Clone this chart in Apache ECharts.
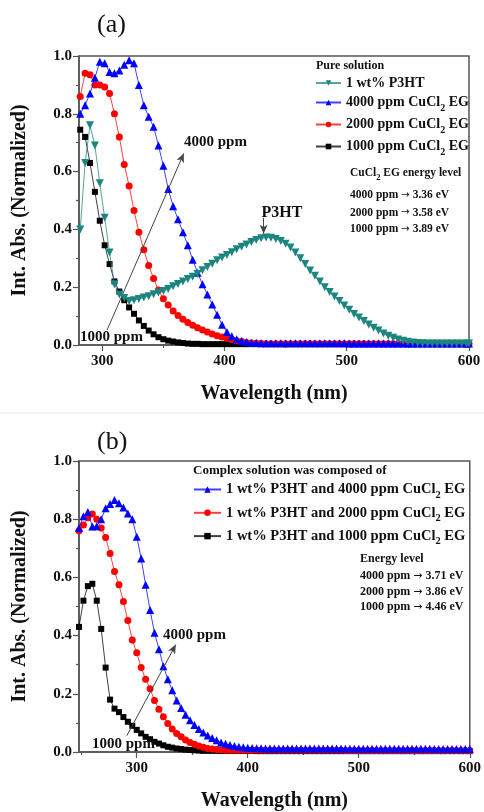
<!DOCTYPE html>
<html><head><meta charset="utf-8">
<script src="https://cdn.jsdelivr.net/npm/echarts@6/dist/echarts.min.js"></script>
<style>html,body{margin:0;padding:0;background:#fff}#c{width:484px;height:812px}</style>
</head><body><div id="c"></div><script>
// ---------- Panel (a): pure solutions ----------
const wlA = [282,286,290,294,298,302,306,310,314,318,
  322,326,330,334,338,342,346,350,354,358,
  362,366,370,374,378,382,386,390,394,398,
  402,406,410,414,418,422,426,430,434,438,
  442,446,450,454,458,462,466,470,474,478,
  482,486,490,494,498,502,506,510,514,518,
  522,526,530,534,538,542,546,550,554,558,
  562,566,570,574,578,582,586,590,594,598,600];
const p3htA = [0.40,0.63,0.76,0.69,0.56,0.44,0.32,0.21,0.175,0.163,
  0.152,0.155,0.159,0.164,0.169,0.176,0.182,0.187,0.194,0.203,
  0.211,0.22,0.228,0.236,0.246,0.259,0.27,0.281,0.293,0.303,
  0.311,0.321,0.331,0.34,0.348,0.356,0.363,0.369,0.372,0.371,
  0.367,0.36,0.35,0.337,0.32,0.30,0.28,0.258,0.24,0.22,
  0.20,0.183,0.168,0.152,0.137,0.122,0.107,0.095,0.083,0.071,
  0.06,0.05,0.04,0.032,0.025,0.019,0.015,0.011,0.009,0.007,
  0.006,0.005,0.005,0.005,0.005,0.005,0.005,0.005,0.005,0.005,0.005];
const cu4000A = [0.80,0.83,0.87,0.925,0.98,0.975,0.945,0.94,0.95,0.97,
  0.985,0.975,0.90,0.83,0.79,0.755,0.69,0.62,0.54,0.48,
  0.435,0.39,0.345,0.295,0.25,0.21,0.175,0.14,0.105,0.07,
  0.045,0.03,0.02,0.014,0.01,0.008,0.007,0.006,0.006,0.006,
  0.006,0.006,0.006,0.006,0.006,0.006,0.006,0.006,0.006,0.006,
  0.006,0.006,0.006,0.006,0.006,0.005,0.005,0.005,0.005,0.005,
  0.005,0.005,0.005,0.005,0.005,0.005,0.005,0.005,0.005,0.005,
  0.005,0.005,0.005,0.005,0.005,0.005,0.005,0.005,0.005,0.005,0.005];
const cu2000A = [0.86,0.94,0.935,0.90,0.90,0.893,0.87,0.80,0.72,0.625,
  0.55,0.465,0.39,0.33,0.275,0.23,0.19,0.16,0.138,0.118,
  0.102,0.089,0.078,0.068,0.06,0.052,0.045,0.038,0.032,0.028,
  0.023,0.019,0.015,0.012,0.009,0.007,0.006,0.005,0.004,0.004,
  0.004,0.004,0.004,0.004,0.004,0.004,0.004,0.004,0.004,0.004,
  0.004,0.004,0.004,0.004,0.004,0.004,0.004,0.004,0.004,0.004,
  0.004,0.004,0.004,0.004,0.004,0.004,0.004,0.004,0.004,0.004,
  0.004,0.004,0.004,0.004,0.004,0.004,0.004,0.004,0.004,0.004,0.004];
const cu1000A = [0.745,0.72,0.63,0.53,0.43,0.345,0.28,0.22,0.185,0.155,
  0.13,0.108,0.085,0.066,0.05,0.037,0.027,0.02,0.015,0.012,
  0.009,0.007,0.005,0.004,0.004,0.003,0.003,0.003,0.003,0.003,
  0.003,0.003,0.003,0.003,0.003,0.003,0.003,0.003,0.003,0.003,
  0.003,0.003,0.003,0.003,0.003,0.003,0.003,0.003,0.003,0.003,
  0.003,0.003,0.003,0.003,0.003,0.003,0.003,0.003,0.003,0.003,
  0.003,0.003,0.003,0.003,0.003,0.003,0.003,0.003,0.003,0.003,
  0.003,0.003,0.003,0.003,0.003,0.003,0.003,0.003,0.003,0.003,0.003];

// ---------- Panel (b): complex solutions ----------
const wlB = [248,252,256,260,264,268,272,276,280,284,
  288,292,296,300,304,308,312,316,320,324,
  328,332,336,340,344,348,352,356,360,364,
  368,372,376,380,384,388,392,396,400,404,
  408,412,416,420,424,428,432,436,440,444,
  448,452,456,460,464,468,472,476,480,484,
  488,492,496,500,504,508,512,516,520,524,
  528,532,536,540,544,548,552,556,560,564,
  568,572,576,580,584,588,592,596,600];
const mix4000B = [0.77,0.81,0.825,0.775,0.776,0.80,0.838,0.852,0.866,0.855,
  0.84,0.82,0.80,0.74,0.665,0.575,0.488,0.41,0.353,0.295,
  0.25,0.212,0.177,0.151,0.128,0.109,0.093,0.079,0.067,0.057,
  0.048,0.04,0.033,0.028,0.024,0.021,0.018,0.016,0.015,0.014,
  0.013,0.013,0.012,0.012,0.012,0.012,0.012,0.012,0.012,0.012,
  0.012,0.012,0.012,0.012,0.012,0.012,0.012,0.012,0.012,0.012,
  0.011,0.011,0.011,0.011,0.011,0.011,0.011,0.011,0.011,0.011,
  0.011,0.011,0.011,0.011,0.011,0.011,0.011,0.011,0.011,0.011,
  0.01,0.01,0.01,0.01,0.01,0.01,0.01,0.01,0.01];
const mix2000B = [0.76,0.78,0.805,0.818,0.80,0.77,0.737,0.682,0.62,0.575,
  0.517,0.452,0.385,0.341,0.29,0.25,0.217,0.177,0.147,0.121,
  0.098,0.079,0.064,0.052,0.041,0.033,0.027,0.021,0.016,0.012,
  0.01,0.009,0.008,0.007,0.006,0.006,0.006,0.006,0.006,0.006,
  0.006,0.006,0.006,0.006,0.006,0.006,0.006,0.006,0.006,0.006,
  0.006,0.006,0.006,0.006,0.006,0.006,0.006,0.006,0.006,0.006,
  0.005,0.005,0.005,0.005,0.005,0.005,0.005,0.005,0.005,0.005,
  0.005,0.005,0.005,0.005,0.005,0.005,0.005,0.005,0.005,0.005,
  0.005,0.005,0.005,0.005,0.005,0.005,0.005,0.005,0.005];
const mix1000B = [0.43,0.52,0.57,0.578,0.52,0.423,0.29,0.18,0.149,0.137,
  0.12,0.104,0.09,0.076,0.064,0.052,0.044,0.035,0.029,0.023,
  0.018,0.015,0.012,0.01,0.008,0.007,0.006,0.005,0.004,0.004,
  0.004,0.004,0.004,0.004,0.004,0.004,0.004,0.004,0.004,0.004,
  0.003,0.003,0.003,0.003,0.003,0.003,0.003,0.003,0.003,0.003,
  0.003,0.003,0.003,0.003,0.003,0.003,0.003,0.003,0.003,0.003,
  0.003,0.003,0.003,0.003,0.003,0.003,0.003,0.003,0.003,0.003,
  0.003,0.003,0.003,0.003,0.003,0.003,0.003,0.003,0.003,0.003,
  0.003,0.003,0.003,0.003,0.003,0.003,0.003,0.003,0.003];

// tick values
const majorTicks = [300,400,500,600];
const minorTicksA = [350,450,550];
const minorTicksB = [250,350,450,550];

// legend names
const namesA = ['1 wt% P3HT','4000 ppm CuCl2 EG','2000 ppm CuCl2 EG','1000 ppm CuCl2 EG'];
const namesB = ['1 wt% P3HT and 4000 ppm CuCl2 EG','1 wt% P3HT and 2000 ppm CuCl2 EG','1 wt% P3HT and 1000 ppm CuCl2 EG'];
const energyA = ['4000 ppm \u2192 3.36 eV','2000 ppm \u2192 3.58 eV','1000 ppm \u2192 3.89 eV'];
const energyB = ['4000 ppm \u2192 3.71 eV','2000 ppm \u2192 3.86 eV','1000 ppm \u2192 4.46 eV'];

const F = '"Liberation Serif", "Times New Roman", serif';
const TXT = '#111';
const AX = '#555';
const TEAL = '#1c8580', BLUE = '#0000ff', RED = '#ff0000', BLACK = '#000000';

const pair = (xs, ys) => xs.map((x, i) => [x, ys[i]]);

function line(name, xs, ys, color, symbol, size, xi, yi, rot, z, extra) {
  return Object.assign({
    type: 'line', name, xAxisIndex: xi, yAxisIndex: yi, data: pair(xs, ys),
    symbol, symbolSize: size, symbolRotate: rot || 0, showSymbol: true, showAllSymbol: true,
    color, itemStyle: {color, borderWidth: 0},
    lineStyle: {color, width: 1, opacity: 0.75}, z, animation: false, clip: true
  }, extra || {});
}

function xMain(gi, min) {
  return {
    type: 'value', gridIndex: gi, min, max: 600, position: 'bottom',
    name: 'Wavelength (nm)', nameLocation: 'middle', nameGap: 39,
    nameTextStyle: {fontFamily: F, fontWeight: 'bold', fontSize: 20, color: TXT},
    axisLine: {show: true, onZero: false, lineStyle: {color: AX, width: 1.5}},
    axisTick: {show: true, inside: false, length: 6, customValues: majorTicks, lineStyle: {color: AX, width: 1.2}},
    axisLabel: {show: true, customValues: majorTicks, margin: 9, fontFamily: F, fontWeight: 'bold', fontSize: 15, color: TXT},
    splitLine: {show: false}
  };
}
function xMinor(gi, min, ticks) {
  return {
    type: 'value', gridIndex: gi, min, max: 600, position: 'bottom', offset: 0,
    axisLine: {show: false, onZero: false},
    axisTick: {show: true, inside: false, length: 3, customValues: ticks, lineStyle: {color: AX, width: 1.2}},
    axisLabel: {show: false}, splitLine: {show: false}
  };
}
function yAx(gi) {
  return {
    type: 'value', gridIndex: gi, min: 0, max: 1, interval: 0.2,
    name: 'Int. Abs. (Normalized)', nameLocation: 'middle', nameGap: 49,
    nameTextStyle: {fontFamily: F, fontWeight: 'bold', fontSize: 20, color: TXT},
    axisLine: {show: true, onZero: false, lineStyle: {color: AX, width: 1.5}},
    axisTick: {show: true, inside: false, length: 6, lineStyle: {color: AX, width: 1.2}},
    minorTick: {show: true, splitNumber: 2, length: 3, lineStyle: {color: AX, width: 1.2}},
    axisLabel: {fontFamily: F, fontWeight: 'bold', fontSize: 15, color: TXT, margin: 7, formatter: v => v.toFixed(1)},
    splitLine: {show: false}, minorSplitLine: {show: false}
  };
}

const subFmt = n => n.replace('CuCl2', 'CuCl{sub|2}');
function legendText(size) {
  return {
    fontFamily: F, fontWeight: 'bold', fontSize: size, color: TXT, lineHeight: 16,
    rich: {sub: {fontFamily: F, fontWeight: 'bold', fontSize: size * 0.72, color: TXT, lineHeight: 21, verticalAlign: 'bottom'}}
  };
}

function txt(x, y, text, size, opts) {
  opts = opts || {};
  return {
    type: 'text', x, y, z: 100, silent: true,
    style: Object.assign({
      text, fill: TXT, font: (opts.normal ? '' : 'bold ') + size + 'px ' + F,
      textAlign: opts.align || 'left', textVerticalAlign: 'middle'
    }, opts.rich ? {rich: opts.rich} : {})
  };
}
const richSub = s => ({sub: {fontFamily: F, fontWeight: 'bold', fontSize: s, fill: TXT, lineHeight: 18, verticalAlign: 'bottom'}});
// energy-level line: arrow glyph drawn with a font that has a full-size arrow
function energyTxt(x, y, text, size) {
  const t = text.replace('\u2192', '{ar|\u2192}');
  return txt(x, y, t, size, {rich: {ar: {fontFamily: '"DejaVu Sans", sans-serif', fontSize: size * 0.9, fill: TXT}}});
}

const arrowStyle = {color: '#444', width: 1, type: 'solid'};
function arrow(from, to) {
  return {
    silent: true, animation: false, symbol: ['none', 'arrow'], symbolSize: [6, 9],
    label: {show: false}, lineStyle: arrowStyle,
    data: [[{coord: from}, {coord: to}]]
  };
}

const option = {
  animation: false,
  backgroundColor: '#fff',
  grid: [
    {left: 79, right: 15, top: 56, height: 289, show: true, borderColor: AX, borderWidth: 1.5, backgroundColor: 'transparent'},
    {left: 79, right: 12, top: 461, height: 292, show: true, borderColor: AX, borderWidth: 1.5, backgroundColor: 'transparent'}
  ],
  xAxis: [xMain(0, 281), xMinor(0, 281, minorTicksA), xMain(1, 248), xMinor(1, 248, minorTicksB)],
  yAxis: [yAx(0), yAx(1)],
  legend: [
    {data: namesA, orient: 'vertical', left: 310, top: 70, itemWidth: 25, itemHeight: 7, itemGap: 1,
     formatter: subFmt, textStyle: legendText(14), selectedMode: false},
    {data: namesB, orient: 'vertical', left: 188, top: 474, itemWidth: 27, itemHeight: 8, itemGap: 2.3,
     formatter: subFmt, textStyle: legendText(14.5), selectedMode: false}
  ],
  series: [
    line(namesA[3], wlA, cu1000A, BLACK, 'rect', 6, 0, 0, 0, 2),
    line(namesA[2], wlA, cu2000A, RED, 'circle', 7, 0, 0, 0, 3),
    line(namesA[1], wlA, cu4000A, BLUE, 'triangle', 8, 0, 0, 0, 4,
      {markLine: arrow([304, 0.052], [366.7, 0.663])}),
    line(namesA[0], wlA, p3htA, TEAL, 'triangle', 8, 0, 0, 180, 5,
      {markLine: arrow([432, 0.44], [432, 0.385])}),
    line(namesB[2], wlB, mix1000B, BLACK, 'rect', 6, 2, 1, 0, 2),
    line(namesB[1], wlB, mix2000B, RED, 'circle', 7, 2, 1, 0, 3),
    line(namesB[0], wlB, mix4000B, BLUE, 'triangle', 8, 2, 1, 0, 4,
      {markLine: arrow([291.1, 0.056], [335.2, 0.369])})
  ],
  graphic: [
    {type: 'line', shape: {x1: 0, y1: 413, x2: 484, y2: 413}, style: {stroke: '#e4e4e4', lineWidth: 1}, silent: true},
    txt(97, 25, '(a)', 26, {normal: true}),
    txt(97, 442, '(b)', 26, {normal: true}),
    // panel a
    txt(316, 66, 'Pure solution', 12),
    txt(350, 173, 'CuCl{sub|2} EG energy level', 11.5, {rich: richSub(8.5)}),
    energyTxt(350, 195, energyA[0], 11.5),
    energyTxt(350, 212.7, energyA[1], 11.5),
    energyTxt(350, 229.3, energyA[2], 11.5),
    txt(282, 213, 'P3HT', 16, {align: 'center'}),
    txt(184, 142, '4000 ppm', 15),
    txt(80, 337, '1000 ppm', 15),
    // panel b
    txt(193, 471, 'Complex solution was composed of', 13),
    txt(360, 559, 'Energy level', 12),
    energyTxt(360, 576, energyB[0], 12),
    energyTxt(360, 591.7, energyB[1], 12),
    energyTxt(360, 607.3, energyB[2], 12),
    txt(163, 635, '4000 ppm', 15),
    txt(92, 744, '1000 ppm', 15)
  ]
};

const chart = echarts.init(document.getElementById('c'), null, {renderer: 'canvas'});
chart.setOption(option);
</script></body></html>
